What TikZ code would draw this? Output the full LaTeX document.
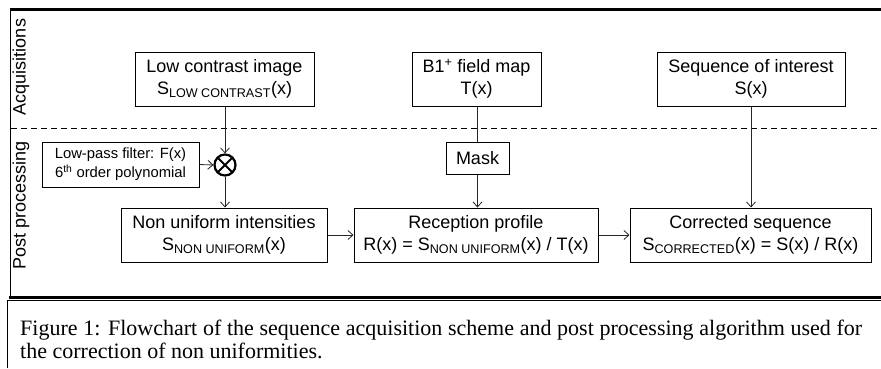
\documentclass[tikz,border=0pt]{standalone}
\usepackage{fontspec}
\setmainfont{Liberation Sans}
\newfontfamily\capfont{Liberation Serif}
\usetikzlibrary{arrows.meta}
\begin{document}
\begin{tikzpicture}[x=1pt,y=-1pt,
  box/.style={draw, line width=1pt, align=center, inner sep=0pt, font=\fontsize{18}{22}\selectfont},
  conn/.style={line width=0.8pt, draw=black!85},
  arr/.style={conn, -{Straight Barb[length=5pt,width=9pt]}},
  side/.style={rotate=90, anchor=base, inner sep=0pt, font=\fontsize{18}{22}\selectfont},
]
\useasboundingbox (0,0) rectangle (881,368);
% frame
\draw[line width=3pt] (10,9.5) -- (881,9.5);
\draw[line width=3pt] (9,297) -- (881,297);
\draw[line width=1.5pt] (10.5,9) -- (10.5,297);
\draw[line width=1pt, dash pattern=on 6pt off 4pt] (11,128) -- (881,128);
% caption frame
\draw[line width=1pt] (7.5,368) -- (7.5,300.5) -- (881,300.5);
% side labels
\node[side] (acq) at (25.5,67) {Acquisitions};
\node[side] (post) at (25.5,205) {Post processing};
% boxes
\node[box, minimum width=179pt, minimum height=54pt] (lc) at (224.5,79) {Low contrast image\\S\textsubscript{LOW CONTRAST}(x)};
\node[box, minimum width=129pt, minimum height=54pt] (b1) at (476.5,79) {B1\textsuperscript{+} field map\\T(x)};
\node[box, minimum width=188pt, minimum height=54pt] (soi) at (751,79) {Sequence of interest\\S(x)};
\node[box, minimum width=157pt, minimum height=45pt, font=\fontsize{14.8}{19}\selectfont] (filt) at (120.5,164.5) {Low-pass filter: F(x)\\6\textsuperscript{th} order polynomial};
\node[circle, draw, line width=2.2pt, minimum size=21pt, inner sep=0pt,
  path picture={\draw[line width=2pt] (path picture bounding box.north west) -- (path picture bounding box.south east) (path picture bounding box.north east) -- (path picture bounding box.south west);}] (ot) at (225,165) {};
\node[box, minimum width=63pt, minimum height=32pt] (mask) at (477.5,158) {Mask};
\node[box, minimum width=206pt, minimum height=54pt] (nu) at (224,235) {Non uniform intensities\\S\textsubscript{NON UNIFORM}(x)};
\node[box, minimum width=244pt, minimum height=54pt] (rp) at (476,235) {Reception profile\\R(x) = S\textsubscript{NON UNIFORM}(x) / T(x)};
\node[box, minimum width=241pt, minimum height=54pt] (cs) at (750.5,235) {Corrected sequence\\S\textsubscript{CORRECTED}(x) = S(x) / R(x)};
% connectors
\draw[arr] (lc.south -| ot) -- (ot.north);
\draw[arr] (filt.east) -- (ot.west);
\draw[arr] (ot.south) -- (ot.south |- nu.north);
\draw[arr] (nu.east) -- (rp.west);
\draw[arr] (rp.east) -- (cs.west);
\draw[conn] (b1.south -| mask) -- (mask.north);
\draw[arr] (mask.south) -- (mask.south |- rp.north);
\draw[arr] (soi.south) -- (soi.south |- cs.north);
% caption
\node[anchor=north west, inner sep=0pt, text width=842pt, align=justify, font=\capfont\fontsize{22}{22.5}\selectfont] (cap) at (20,320) {Figure 1: Flowchart of the sequence acquisition scheme and post processing algorithm used for\linebreak the correction of non uniformities.};
\end{tikzpicture}
\end{document}
